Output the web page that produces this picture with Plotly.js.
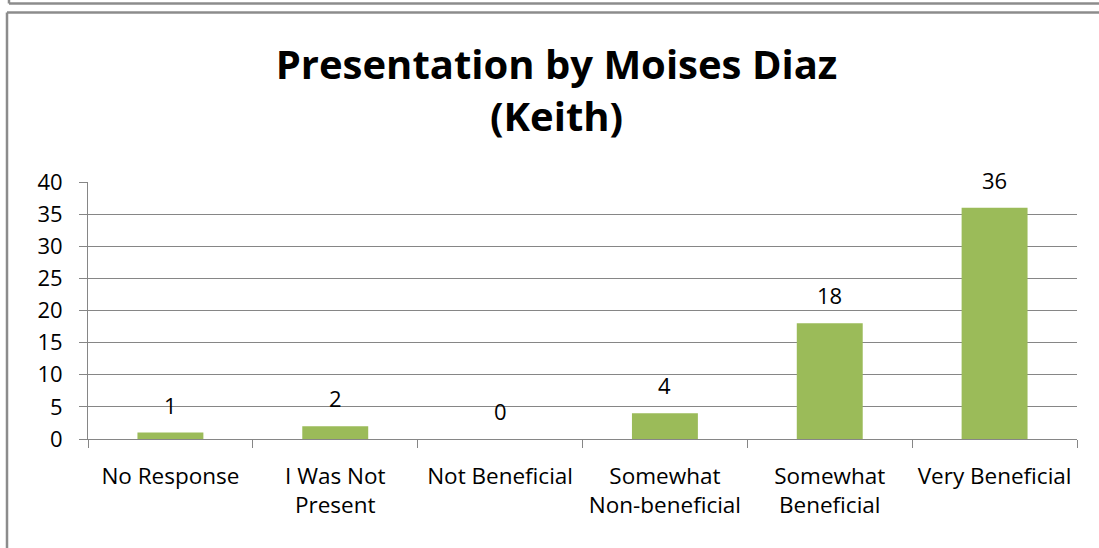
<!DOCTYPE html>
<html>
<head>
<meta charset="utf-8">
<script src="https://cdn.plot.ly/plotly-3.0.1.min.js"></script>
<style>
html,body{margin:0;padding:0;background:#fff;}
#chart{width:1099px;height:548px;}
</style>
</head>
<body>
<div id="chart"></div>
<script>
const categories = ["No Response", "I Was Not<br>Present", "Not Beneficial", "Somewhat<br>Non-beneficial", "Somewhat<br>Beneficial", "Very Beneficial"];
const responses = [1, 2, 0, 4, 18, 36];
const yTicks = [0, 5, 10, 15, 20, 25, 30, 35, 40];
const chartTitle = "Presentation by Moises Diaz<br>(Keith)";

const FONT = "Open Sans, Lato, DejaVu Sans, sans-serif";
const GRAY = "#868686";
const FRAME = "#8c8c8c";

const trace = {
  type: "bar",
  x: categories,
  y: responses,
  marker: {color: "#9BBB59", line: {width: 0}},
  hoverinfo: "x+y"
};

const labels = categories.map((c, i) => ({
  x: c, y: responses[i], xref: "x", yref: "y",
  text: String(responses[i]),
  showarrow: false, yanchor: "bottom", yshift: 11,
  font: {family: FONT, size: 22, color: "#000"}
}));

// Frame lines (paper coords relative to plot area)
const shapes = [
  {type: "line", xref: "paper", yref: "paper", x0: -0.0819, x1: -0.0819, y0: -0.5, y1: 1.6595, line: {color: FRAME, width: 2.5}},
  {type: "line", xref: "paper", yref: "paper", x0: -0.0819, x1: 1.05, y0: 1.6595, y1: 1.6595, line: {color: FRAME, width: 2.5}},
  {type: "line", xref: "paper", yref: "paper", x0: -0.0799, x1: 1.05, y0: 1.6946, y1: 1.6946, line: {color: FRAME, width: 2.5}},
  {type: "line", xref: "paper", yref: "paper", x0: -0.0799, x1: -0.0799, y0: 1.6946, y1: 1.75, line: {color: FRAME, width: 2.5}}
];

const layout = {
  width: 1099, height: 548,
  margin: {l: 88, r: 22, t: 182, b: 109, pad: 0},
  paper_bgcolor: "#fff", plot_bgcolor: "#fff",
  showlegend: false,
  bargap: 0.6,
  font: {family: FONT, size: 23, color: "#000"},
  title: {
    text: chartTitle,
    font: {family: FONT, size: 40, weight: "bold", color: "#000"},
    x: 0.5064, xref: "container", xanchor: "center",
    y: 0.8565, yref: "container", yanchor: "top"
  },
  xaxis: {
    type: "category",
    tickson: "boundaries",
    tickangle: 0,
    ticks: "outside", ticklen: 8, tickcolor: GRAY, tickwidth: 1,
    showline: true, linecolor: GRAY, linewidth: 1,
    showgrid: false, zeroline: false,
    tickfont: {family: FONT, size: 22.5, color: "#000"},
    ticklabelstandoff: 17
  },
  yaxis: {
    range: [0, 40],
    tickvals: yTicks,
    ticks: "outside", ticklen: 8, tickcolor: GRAY, tickwidth: 1,
    showline: true, linecolor: GRAY, linewidth: 1,
    showgrid: true, gridcolor: GRAY, gridwidth: 1,
    zeroline: false,
    tickfont: {family: FONT, size: 22, color: "#000"},
    ticklabelstandoff: 12
  },
  shapes: shapes,
  annotations: labels
};

Plotly.newPlot("chart", [trace], layout, {displayModeBar: false, staticPlot: true});
</script>
</body>
</html>
